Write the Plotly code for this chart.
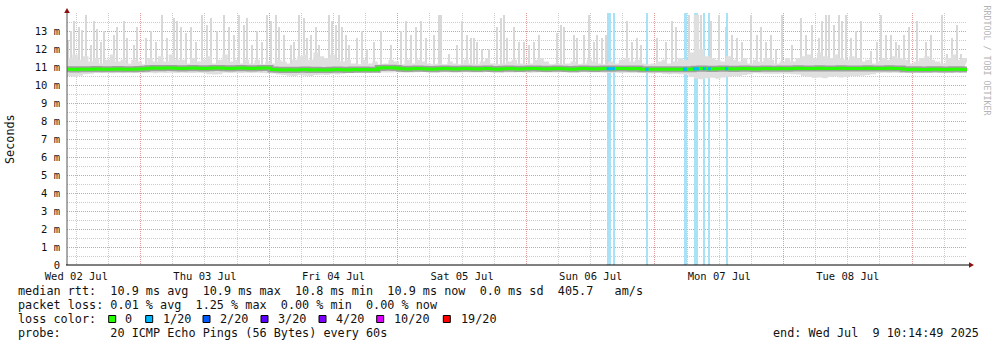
import plotly.graph_objects as go
import pandas as pd

START = pd.Timestamp("2025-07-02 10:14:49")
END = pd.Timestamp("2025-07-09 10:14:49")

# hourly series (ms), hour 0 .. 168 from START
median_ms = [10.87,10.86,10.88,10.87,10.88,10.89,10.88,10.87,10.88,10.89,10.88,10.87,10.88,10.89,10.90,
             10.93,10.94,10.93,10.95,10.94,10.93,10.92,10.93,10.94,10.93,10.92,10.93,10.94,10.95,10.93,10.92,10.93,10.94,10.93,10.92,10.93,10.95,10.94,
             10.86,10.85,10.84,10.85,10.83,10.85,10.86,10.84,10.85,10.83,10.84,10.85,10.86,10.85,10.84,10.86,10.85,10.86,10.85,10.85,
             10.95,10.96,10.96,10.95,
             10.90,10.89,10.90,10.91,10.90,10.89,10.88,10.90,10.91,10.90,10.89,10.90,10.92,10.90,10.89,10.90,10.91,10.89,10.88,10.90,
             10.91,10.90,10.89,10.90,10.92,10.91,10.90,10.89,10.90,10.91,10.90,10.89,10.88,10.90,10.91,10.90,10.89,10.90,10.91,10.90,
             10.91,10.92,10.91,10.90,10.91,
             10.88,10.87,10.88,10.87,10.87,10.88,10.88,10.87,10.87,10.88,
             10.90,10.91,10.90,10.89,10.90,10.91,10.90,10.89,10.90,10.91,10.90,10.89,10.90,10.91,10.90,10.90,10.91,10.90,
             10.92,10.93,10.92,10.91,10.92,10.93,10.92,10.91,10.92,10.93,10.92,10.92,10.91,10.92,10.93,10.92,10.91,10.92,10.93,10.92,10.91,
             10.87,10.86,10.87,10.86,10.86,10.87,10.87,10.86,10.86,10.87,10.87,10.86,10.86]

smoke_lo_ms = [10.50,10.45,10.52,10.60,10.62,
               10.68,10.66,10.68,10.65,10.68,10.67,10.68,10.66,10.68,10.67,10.68,10.65,10.68,10.66,10.68,10.67,10.68,10.66,10.67,10.68,10.66,
               10.60,10.58,10.60,
               10.68,10.67,10.68,10.66,10.68,10.67,10.68,10.66,10.65,10.64,
               10.58,10.55,10.52,10.50,10.55,10.52,10.50,10.55,10.57,10.55,10.60,10.58,10.62,
               10.70,10.68,10.70,10.71,10.70,10.72,10.70,10.69,10.70,10.71,10.70,10.68,10.70,10.71,10.72,10.70,10.69,10.70,10.71,10.70,
               10.68,10.70,10.71,10.70,10.69,10.70,10.72,10.70,10.71,10.70,10.69,10.70,10.71,10.70,10.68,10.70,10.71,10.70,10.69,10.70,
               10.71,10.70,10.69,10.70,10.71,10.70,10.69,10.70,
               10.68,10.67,10.68,10.66,10.68,10.67,10.68,10.66,10.65,10.64,10.66,10.62,10.60,10.62,10.60,10.58,
               10.45,10.35,10.32,10.38,10.40,10.35,10.42,10.45,10.50,10.48,10.55,10.60,
               10.65,10.64,
               10.62,10.63,10.62,10.64,10.62,10.60,10.58,
               10.50,10.45,10.40,10.42,10.38,10.45,10.48,10.42,10.45,10.50,10.48,10.52,10.55,
               10.60,10.66,10.68,10.67,10.68,10.66,10.68,10.67,10.68,10.66,10.68,10.67,10.68,10.66,10.68,10.67,10.68,10.68]

smoke_hi_ms = [11.5,11.7,11.4,11.6,11.3,11.5,11.2,11.4,11.7,11.3,11.4,
               11.2,11.4,11.3,11.15,11.5,11.3,11.6,11.3,11.7,11.4,
               11.4,11.2,11.5,11.3,11.4,11.6,11.2,11.4,11.7,11.3,11.4,11.2,11.4,
               11.2,11.4,11.15,11.3,11.2,11.4,11.3,11.2,11.4,11.6,11.7,11.4,11.8,11.6,11.5,11.7,11.4,
               11.3,11.4,11.2,11.15,11.4,11.2,11.3,11.15,11.2,11.4,11.3,11.15,11.4,11.2,11.4,11.3,11.2,
               11.15,11.2,11.15,11.3,11.2,11.15,11.4,11.2,11.15,11.3,11.5,11.2,11.15,11.2,11.3,11.4,11.2,
               11.15,11.2,11.4,11.5,11.3,11.15,11.2,11.15,11.2,11.3,11.15,11.2,11.4,11.3,11.2,11.15,
               11.3,11.2,11.4,11.5,11.3,11.4,11.2,11.15,11.2,11.3,11.4,11.2,11.3,11.5,11.4,
               11.8,13.9,12.0,11.6,11.5,11.4,11.3,11.6,11.4,11.3,11.5,11.2,11.4,11.3,11.5,11.4,11.2,11.3,11.5,
               11.3,11.5,11.6,11.7,11.5,11.8,11.6,11.5,11.7,11.5,11.4,11.6,11.5,11.3,11.4,11.2,11.3,11.5,11.4,11.6,11.5,
               11.4,11.2,11.3,11.5,11.6,11.4,11.3,11.2,11.5,11.7,11.4,11.5,11.3]

# single-column maxima (hours after START, top in ms)
spike_hours = [0.19,0.75,1.31,2.24,2.8,3.55,4.48,5.04,5.6,6.35,6.91,8.77,9.33,10.64,11.2,12.51,13.07,14.75,15.68,16.61,
               17.73,18.67,19.97,20.53,21.28,22.21,23.15,24.08,25.2,26.13,26.88,28.0,29.31,30.24,31.17,32.11,33.04,
               33.6,34.53,35.47,36.4,37.33,38.08,39.01,39.57,40.51,41.81,42.37,43.31,44.24,44.8,45.55,46.48,47.04,
               48.91,49.47,50.21,50.77,51.33,52.08,52.64,54.13,55.07,56.0,57.31,58.61,60.48,62.35,63.28,64.21,65.15,66.08,67.01,
               68.51,69.44,69.81,71.31,72.8,73.73,74.67,75.41,75.97,76.53,77.47,78.77,80.27,81.01,81.57,82.13,83.44,84.37,
               85.31,86.24,87.17,88.11,91.47,92.21,92.77,94.64,95.2,96.51,97.44,98.37,98.93,99.87,
               100.61,104.53,105.47,106.4,107.15,110.13,111.81,112.93,113.68,116.11,117.41,118.35,120.21,121.71,123.01,
               124.13,125.07,126.0,127.68,128.8,129.55,130.48,131.41,132.35,133.47,
               135.33,137.01,137.95,139.07,140.37,140.93,141.68,142.24,143.17,144.11,144.67,145.41,146.35,147.28,148.21,
               150.08,151.2,151.95,152.88,153.81,154.75,155.31,156.24,157.17,158.67,160.35,161.28,163.33,164.27,165.2,166.13,166.88]
spike_top_ms = [12.5,13.0,13.55,13.2,13.07,13.9,12.2,13.55,13.1,12.4,13.0,12.8,13.2,13.55,12.6,12.2,13.2,12.6,13.0,12.4,
                13.9,12.6,13.7,13.55,13.2,12.9,13.2,12.4,13.9,13.35,13.7,13.0,13.9,13.2,12.8,13.9,13.35,
                13.7,12.2,13.0,12.4,13.9,13.55,13.9,13.2,12.8,12.2,12.4,13.9,13.7,12.6,12.8,13.2,12.2,
                13.9,13.55,13.35,13.9,13.2,12.8,12.2,12.6,13.0,12.0,12.4,13.0,12.2,13.0,13.55,12.8,13.2,13.55,12.6,
                12.8,13.9,13.9,11.7,12.2,13.55,12.8,12.6,12.6,12.4,12.0,12.0,13.2,13.7,13.9,12.6,13.2,12.4,
                12.4,12.2,12.4,12.8,12.9,13.35,13.2,12.8,12.6,12.8,13.9,12.4,12.8,12.6,
                12.8,13.55,12.4,12.6,12.2,12.6,12.4,13.55,13.2,13.9,13.9,13.9,13.55,13.9,13.2,
                12.8,12.6,12.4,13.9,12.8,13.2,12.4,12.8,12.0,13.9,
                12.2,13.7,12.8,13.35,12.6,13.55,13.9,13.9,13.35,13.9,13.55,13.9,12.6,13.0,13.55,
                11.9,12.4,13.9,12.8,12.8,12.4,12.2,12.8,13.2,13.55,12.4,12.8,13.9,11.7,12.6,13.35,11.7]

# intervals with 1/20 packet loss
loss_hours = [101.0,101.45,102.04,108.27,115.3,115.5,117.18,117.71,118.98,119.9,123.14]
loss_rtt_ms = [10.9,10.9,10.91,10.87,10.88,10.88,10.9,10.9,10.91,10.9,10.9]

y_tick_vals = list(range(0, 14))
y_tick_text = ["0"] + [f"{v} m" for v in range(1, 14)]

legend_rows = [
    "median rtt:  10.9 ms avg  10.9 ms max  10.8 ms min  10.9 ms now  0.0 ms sd  405.7   am/s",
    "packet loss: 0.01 % avg  1.25 % max  0.00 % min  0.00 % now",
    "loss color:",
    "probe:       20 ICMP Echo Pings (56 Bytes) every 60s",
]
loss_labels = ["0", "1/20", "2/20", "3/20", "4/20", "10/20", "19/20"]
loss_colors = ["#26ff00", "#00b8ff", "#0059ff", "#5e00ff", "#7e00ff", "#dd00ff", "#ff0000"]
end_text = "end: Wed Jul  9 10:14:49 2025"

# ---------------------------------------------------------------
W, H = 997, 347
def px(x): return x / W
def py(y): return 1 - y / H

def at(hours):
    return [(START + pd.Timedelta(hours=h)).strftime("%Y-%m-%d %H:%M:%S") for h in hours]

t_hour = at(range(len(median_ms)))
MONO = "DejaVu Sans Mono"

fig = go.Figure()

# smoke (outer band)
fig.add_trace(go.Scatter(x=t_hour, y=smoke_lo_ms, mode="lines", line=dict(width=0, shape="hv"),
                         hoverinfo="skip", showlegend=False))
fig.add_trace(go.Scatter(x=t_hour, y=smoke_hi_ms, mode="lines", line=dict(width=0, shape="hv"),
                         fill="tonexty", fillcolor="#dfdfdf", hoverinfo="skip", showlegend=False))

# spikes
fig.add_trace(go.Bar(x=at(spike_hours), y=[v - 10.9 for v in spike_top_ms], base=10.9,
                     width=650000, marker=dict(color="#d8d8d8", line=dict(width=0)),
                     hoverinfo="skip", showlegend=False))

# loss background bars
fig.add_trace(go.Bar(x=at(loss_hours), y=[14] * len(loss_hours), base=0,
                     width=850000, marker=dict(color="#a9e2f6", line=dict(width=0)),
                     hoverinfo="skip", showlegend=False))

# dark smoke around median
fig.add_trace(go.Scatter(x=t_hour, y=median_ms, mode="lines", line=dict(width=6, color="#a0a0a0", shape="hv"),
                         hoverinfo="skip", showlegend=False))
# median
fig.add_trace(go.Scatter(x=t_hour, y=median_ms, mode="lines", line=dict(width=3, color="#26ff00", shape="hv"),
                         showlegend=False))
fig.add_trace(go.Scatter(x=at(loss_hours), y=loss_rtt_ms, mode="markers",
                         marker=dict(symbol="square", size=3, color="#00b8ff", line=dict(width=0)),
                         showlegend=False))

dot = "1px,1px"
fig.update_layout(
    width=W, height=H, margin=dict(l=0, r=0, t=0, b=0, autoexpand=False),
    paper_bgcolor="white", plot_bgcolor="white",
    barmode="overlay", bargap=0,
    font=dict(family=MONO, size=11, color="#111"),
    xaxis=dict(
        type="date", domain=[px(67), px(967)], automargin=False,
        range=[START.strftime("%Y-%m-%d %H:%M:%S"), END.strftime("%Y-%m-%d %H:%M:%S")],
        tick0="2025-07-02 00:00:00", dtick=86400000, ticklabelmode="period",
        tickformat="%a %d %b", ticks="", showline=False, zeroline=False,
        showgrid=True, gridcolor="#e39a9a", griddash=dot, gridwidth=1,
        tickfont=dict(family=MONO, size=10.5, color="#111"), ticklabelstandoff=3,
        minor=dict(dtick=21600000, tick0="2025-07-02 00:00:00", showgrid=True,
                   gridcolor="#cccccc", griddash=dot, gridwidth=1),
    ),
    yaxis=dict(
        domain=[py(265), py(13)], range=[0, 14], automargin=False,
        tickvals=y_tick_vals, ticktext=y_tick_text, ticks="", zeroline=False, showline=False,
        showgrid=True, gridcolor="#e39a9a", griddash=dot, gridwidth=1,
        tickfont=dict(family=MONO, size=10.5, color="#111"), ticklabelstandoff=6,
        minor=dict(dtick=0.5, showgrid=True, gridcolor="#cccccc", griddash=dot, gridwidth=1),
    ),
)

shapes = [
    dict(type="line", xref="paper", yref="paper", x0=px(67), x1=px(67), y0=py(265), y1=py(11),
         line=dict(color="#555555", width=1)),
    dict(type="line", xref="paper", yref="paper", x0=px(66), x1=px(970), y0=py(265), y1=py(265),
         line=dict(color="#000000", width=1)),
    dict(type="path", xref="paper", yref="paper",
         path=f"M {px(64.2)},{py(13)} L {px(69.8)},{py(13)} L {px(67)},{py(8)} Z",
         fillcolor="#8b1010", line=dict(width=0)),
    dict(type="path", xref="paper", yref="paper",
         path=f"M {px(969)},{py(262.2)} L {px(969)},{py(267.8)} L {px(974)},{py(265)} Z",
         fillcolor="#8b1010", line=dict(width=0)),
]

annotations = [
    dict(text="Seconds", x=px(10), y=py(139), xref="paper", yref="paper", textangle=-90,
         showarrow=False, font=dict(family=MONO, size=11.8, color="#111"), xanchor="center", yanchor="middle"),
    dict(text="RRDTOOL / TOBI OETIKER", x=px(986.5), y=py(60), xref="paper", yref="paper", textangle=90,
         showarrow=False, font=dict(family=MONO, size=8.3, color="#b4b4b4"), xanchor="center", yanchor="middle"),
]

row_y = [291, 305, 319, 333]
for txt, yy in zip(legend_rows, row_y):
    annotations.append(dict(text=txt.replace(" ", "\u00a0"), x=px(16), y=py(yy), xref="paper", yref="paper",
                            showarrow=False, xanchor="left", yanchor="middle",
                            font=dict(family=MONO, size=11.8, color="#111")))
annotations.append(dict(text=end_text.replace(" ", "\u00a0"), x=px(981), y=py(333), xref="paper", yref="paper",
                        showarrow=False, xanchor="right", yanchor="middle",
                        font=dict(family=MONO, size=11.8, color="#111")))

box_x = [108.7, 145.7, 203.0, 261.0, 319.0, 376.7, 443.3]
lab_x = [123.0, 160.7, 218.0, 276.0, 334.0, 392.0, 458.7]
for bx, lx, lab, col in zip(box_x, lab_x, loss_labels, loss_colors):
    shapes.append(dict(type="rect", xref="paper", yref="paper", x0=px(bx), x1=px(bx + 7),
                       y0=py(322.5), y1=py(315.5), fillcolor=col, line=dict(color="#000", width=1)))
    annotations.append(dict(text=lab, x=px(lx), y=py(319), xref="paper", yref="paper",
                            showarrow=False, xanchor="left", yanchor="middle",
                            font=dict(family=MONO, size=11.8, color="#111")))

fig.update_layout(shapes=shapes, annotations=annotations)
fig.write_html("out.html")
